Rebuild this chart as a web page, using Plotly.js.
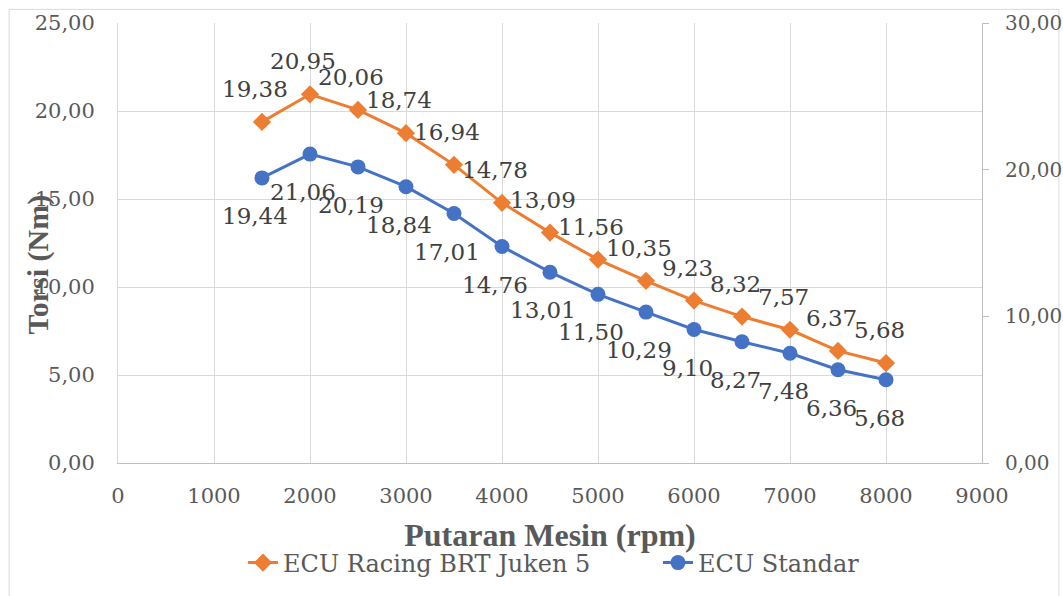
<!DOCTYPE html>
<html>
<head>
<meta charset="utf-8">
<script src="https://cdn.plot.ly/plotly-3.0.1.min.js"></script>
<style>html,body{margin:0;padding:0;background:#fff;}#chart{width:1063px;height:596px;}</style>
</head>
<body>
<div id="chart"></div>
<script>
const rpm = [1500, 2000, 2500, 3000, 3500, 4000, 4500, 5000, 5500, 6000, 6500, 7000, 7500, 8000];
const racing = [19.38, 20.95, 20.06, 18.74, 16.94, 14.78, 13.09, 11.56, 10.35, 9.23, 8.32, 7.57, 6.37, 5.68];
const standar = [19.44, 21.06, 20.19, 18.84, 17.01, 14.76, 13.01, 11.50, 10.29, 9.10, 8.27, 7.48, 6.36, 5.68];
const seriesNames = ['ECU Racing BRT Juken 5', 'ECU Standar'];
const xTitle = 'Putaran Mesin (rpm)';
const yTitle = 'Torsi (Nm)';

const BOLDFONT = 'Liberation Serif';
const SERIF = 'DejaVu Serif';
const ORANGE = '#ED7D31';
const BLUE = '#4472C4';
const fmt = v => v.toFixed(2).replace('.', ',');

const traces = [
  {
    x: rpm, y: racing, name: seriesNames[0], type: 'scatter', mode: 'lines+markers',
    line: {color: ORANGE, width: 3},
    marker: {symbol: 'diamond', size: 14, color: ORANGE},
    yaxis: 'y', legend: 'legend', hoverinfo: 'x+y'
  },
  {
    x: rpm, y: standar, name: seriesNames[1], type: 'scatter', mode: 'lines+markers',
    line: {color: BLUE, width: 3},
    marker: {symbol: 'circle', size: 15, color: BLUE},
    yaxis: 'y2', legend: 'legend2', hoverinfo: 'x+y'
  }
];

const labelFont = {family: SERIF, size: 23, color: '#404040'};
const annotations = [];
rpm.forEach((x, i) => {
  annotations.push({x: x, y: racing[i], xref: 'x', yref: 'y', text: fmt(racing[i]),
    showarrow: false, font: labelFont, xanchor: 'center', yanchor: 'middle', yshift: 33, xshift: -7});
  annotations.push({x: x, y: standar[i], xref: 'x', yref: 'y2', text: fmt(standar[i]),
    showarrow: false, font: labelFont, xanchor: 'center', yanchor: 'middle', yshift: -38, xshift: -7});
});
annotations.push({
  text: '<b>' + yTitle + '</b>', xref: 'paper', yref: 'paper', x: -0.0926, y: 0.451,
  xanchor: 'center', yanchor: 'middle', textangle: -90, showarrow: false,
  font: {family: BOLDFONT, size: 30, color: '#595959'}
});

const tickFont = {family: SERIF, size: 21, color: '#595959'};
const legendFont = {family: SERIF, size: 24, color: '#595959'};
const layout = {
  width: 1063, height: 596,
  margin: {l: 118, r: 81, t: 23, b: 132},
  paper_bgcolor: '#ffffff', plot_bgcolor: '#ffffff',
  separators: ',.',
  font: {family: SERIF, color: '#595959'},
  showlegend: true,
  legend: {
    orientation: 'h', x: 0.1447, xanchor: 'left', y: -0.2245, yanchor: 'middle',
    font: legendFont, bgcolor: 'rgba(0,0,0,0)'
  },
  legend2: {
    orientation: 'h', x: 0.625, xanchor: 'left', y: -0.2245, yanchor: 'middle',
    font: legendFont, bgcolor: 'rgba(0,0,0,0)'
  },
  xaxis: {
    range: [0, 9000], dtick: 1000, tick0: 0, tickformat: 'd',
    showgrid: true, gridcolor: '#d9d9d9', gridwidth: 1,
    zeroline: false, showline: true, linecolor: '#bfbfbf', linewidth: 1,
    ticks: '', tickfont: tickFont, ticklabelstandoff: 14,
    title: {text: '<b>' + xTitle + '</b>', font: {family: BOLDFONT, size: 32, color: '#595959'}, standoff: 16}
  },
  yaxis: {
    range: [0, 25], dtick: 5, tick0: 0, tickformat: '.2f',
    showgrid: true, gridcolor: '#d9d9d9', gridwidth: 1,
    zeroline: false, showline: true, linecolor: '#d9d9d9', linewidth: 1,
    ticks: '', tickfont: tickFont, ticklabelstandoff: 18
  },
  yaxis2: {
    range: [0, 30], dtick: 10, tick0: 0, tickformat: '.2f',
    overlaying: 'y', side: 'right', showgrid: false, zeroline: false,
    showline: true, linecolor: '#bfbfbf', linewidth: 1,
    ticks: 'outside', ticklen: 6, tickcolor: '#bfbfbf', tickwidth: 1,
    tickfont: {family: SERIF, size: 20, color: '#595959'}, ticklabelstandoff: 12
  },
  annotations: annotations,
  shapes: [{
    type: 'rect', xref: 'paper', yref: 'paper', x0: -0.126, x1: 1.089, y0: -0.34, y1: 1.031,
    line: {color: '#d9d9d9', width: 1}, fillcolor: 'rgba(0,0,0,0)', layer: 'below'
  }]
};

Plotly.newPlot('chart', traces, layout, {displayModeBar: false, staticPlot: true});
</script>
</body>
</html>
